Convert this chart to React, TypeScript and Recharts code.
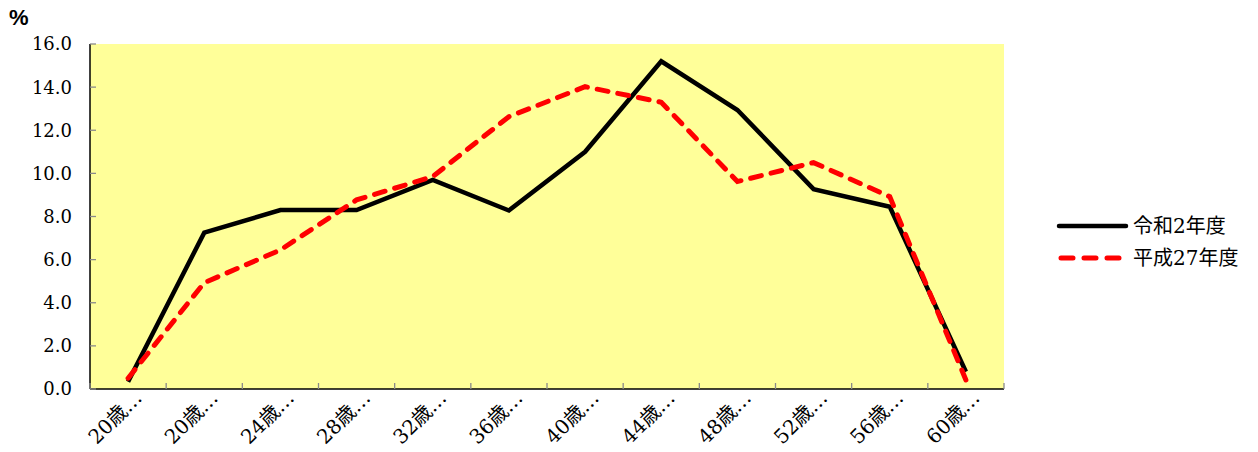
import React from 'react';
import { LineChart, Line, XAxis, YAxis, CartesianGrid } from 'recharts';

const categories = ['20歳…', '20歳…', '24歳…', '28歳…', '32歳…', '36歳…', '40歳…', '44歳…', '48歳…', '52歳…', '56歳…', '60歳…'];
const reiwa2 = [0.34, 7.25, 8.3, 8.3, 9.7, 8.28, 11.0, 15.2, 12.94, 9.27, 8.45, 0.8];
const heisei27 = [0.5, 4.93, 6.45, 8.77, 9.85, 12.63, 14.02, 13.3, 9.62, 10.5, 8.92, 0.42];
const yTicks = [0, 2, 4, 6, 8, 10, 12, 14, 16];
const seriesNames = ['令和2年度', '平成27年度'];
const seriesColors = ['#000000', '#FF0000'];

const serifFont = "'DejaVu Serif', 'Noto Sans CJK JP', serif";
const tickColor = '#8a8a8a';
const yLabelGap = 18;

const data = categories.map((c, i) => ({ idx: i, name: c, r2: reiwa2[i], h27: heisei27[i] }));
const centerTicks = categories.map((_, i) => i);

const XTick = (props: any) => {
  const { x, y, payload, index, width, visibleTicksCount } = props;
  const band = Number(width) / Number(visibleTicksCount);
  const isLast = index === visibleTicksCount - 1;
  return (
    <g>
      <line x1={x - band / 2} y1={y} x2={x - band / 2} y2={y - 6} stroke={tickColor} strokeWidth={1.3} />
      {isLast && <line x1={x + band / 2} y1={y} x2={x + band / 2} y2={y - 6} stroke={tickColor} strokeWidth={1.3} />}
      <g transform={`translate(${x + 15},${y + 10})`}>
        <text x={0} y={0} textAnchor="end" transform="rotate(-45)" fontSize={20} fontFamily={serifFont} fill="#000">
          {categories[payload.value]}
        </text>
      </g>
    </g>
  );
};

const YTick = (props: any) => {
  const { x, y, payload } = props;
  return (
    <g>
      <line x1={x + yLabelGap} y1={y} x2={x + yLabelGap + 6} y2={y} stroke={tickColor} strokeWidth={1.3} />
      <text x={x} y={y} dy="0.36em" textAnchor="end" fontSize={18} fontFamily={serifFont} fill="#000">
        {Number(payload.value).toFixed(1)}
      </text>
    </g>
  );
};

export default function App() {
  return (
    <div style={{ position: 'absolute', left: 0, top: 0, width: 1258, height: 452, background: '#fff' }}>
      <div style={{ position: 'absolute', left: 9, top: 6, fontFamily: "'Liberation Sans', Arial, sans-serif", fontWeight: 'bold', fontSize: 22, lineHeight: '24px' }}>%</div>
      <LineChart width={1258} height={452} data={data} margin={{ top: 44, right: 254, left: 0, bottom: 0 }}>
        <CartesianGrid fill="#FFFF99" horizontal={false} vertical={false} stroke="none" />
        <XAxis
          type="number"
          dataKey="idx"
          domain={[-0.5, categories.length - 0.5]}
          ticks={centerTicks}
          tick={<XTick />}
          tickLine={false}
          axisLine={{ stroke: '#000', strokeWidth: 1.5 }}
          tickSize={0}
          tickMargin={0}
          height={63}
          interval={0}
        />
        <YAxis
          type="number"
          domain={[0, 16]}
          ticks={yTicks}
          width={90}
          tickSize={0}
          tickMargin={yLabelGap}
          axisLine={{ stroke: '#000', strokeWidth: 1.5 }}
          tickLine={false}
          tick={<YTick />}
          interval={0}
        />
        <Line type="linear" dataKey="r2" name={seriesNames[0]} stroke={seriesColors[0]} strokeWidth={4.5} dot={false} isAnimationActive={false} strokeLinejoin="miter" />
        <Line type="linear" dataKey="h27" name={seriesNames[1]} stroke={seriesColors[1]} strokeWidth={5} strokeDasharray="11 10" strokeLinecap="round" dot={false} isAnimationActive={false} />
      </LineChart>
      <svg style={{ position: 'absolute', left: 1050, top: 205 }} width={208} height={70}>
        <line x1={9} y1={21} x2={76} y2={21} stroke={seriesColors[0]} strokeWidth={4.5} strokeLinecap="round" />
        <text x={83} y={21} dy="0.35em" fontSize={20} fontFamily={serifFont} fill="#000">{seriesNames[0]}</text>
        <line x1={11} y1={53} x2={72} y2={53} stroke={seriesColors[1]} strokeWidth={5} strokeDasharray="12 11" strokeLinecap="round" />
        <text x={83} y={53} dy="0.35em" fontSize={20} fontFamily={serifFont} fill="#000">{seriesNames[1]}</text>
      </svg>
    </div>
  );
}
